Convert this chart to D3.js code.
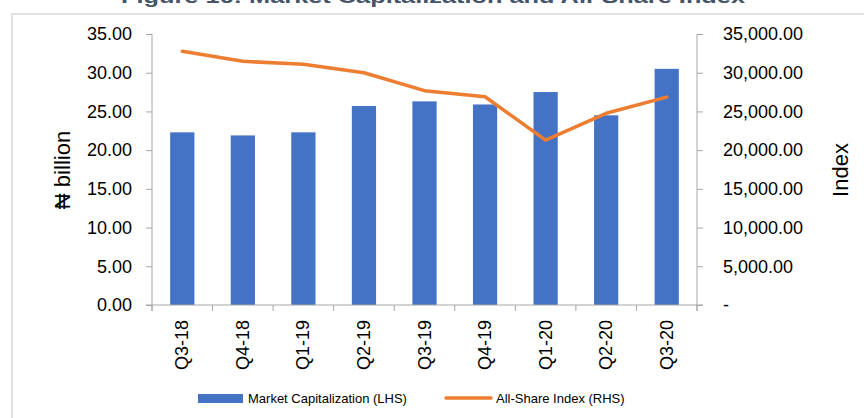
<!DOCTYPE html>
<html>
<head>
<meta charset="utf-8">
<script src="https://cdn.jsdelivr.net/npm/d3@7"></script>
<style>
  body { margin: 0; background: #fff; }
  text { font-family: "Liberation Sans", Arial, sans-serif; }
</style>
</head>
<body>
<div id="viz"></div>
<script>
// data
var quarters = ['Q3-18', 'Q4-18', 'Q1-19', 'Q2-19', 'Q3-19', 'Q4-19', 'Q1-20', 'Q2-20', 'Q3-20'];
var marketCap = [22.3, 21.9, 22.3, 25.7, 26.3, 25.9, 27.5, 24.5, 30.5];
var allShare = [32770, 31470, 31090, 30000, 27680, 26900, 21300, 24760, 26850];
var leftTicks = [0, 5, 10, 15, 20, 25, 30, 35];
var rightTicks = [0, 5000, 10000, 15000, 20000, 25000, 30000, 35000];

var width = 864, height = 418;
var plot = { left: 152, right: 697, top: 34, bottom: 305 };

var svg = d3.select('#viz').append('svg')
  .attr('width', width)
  .attr('height', height);

// frame of the figure box
svg.append('path')
  .attr('d', 'M12,418 L12,14 L864,14')
  .attr('fill', 'none')
  .attr('stroke', '#D9D9D9')
  .attr('stroke-width', 1.5);

// title, cut off by the top edge as in the source
svg.append('text')
  .attr('x', 433)
  .attr('y', 3)
  .attr('text-anchor', 'middle')
  .attr('textLength', 624)
  .attr('lengthAdjust', 'spacingAndGlyphs')
  .style('font-size', '19px')
  .style('font-weight', 'bold')
  .style('fill', '#44546A')
  .text('Figure 16: Market Capitalization and All-Share Index');

var xScale = d3.scaleBand()
  .domain(quarters)
  .range([plot.left, plot.right])
  .paddingInner(0.6)
  .paddingOuter(0.3);

var xGrid = d3.scaleBand()
  .domain(quarters)
  .range([plot.left, plot.right]);

var yLeft = d3.scaleLinear()
  .domain([0, 35])
  .range([plot.bottom, plot.top]);

var yRight = d3.scaleLinear()
  .domain([0, 35000])
  .range([plot.bottom, plot.top]);

var axisColor = '#A6A6A6';

// bars
svg.append('g').selectAll('rect')
  .data(marketCap)
  .enter().append('rect')
  .attr('x', function(d, i) { return xScale(quarters[i]); })
  .attr('width', xScale.bandwidth())
  .attr('y', function(d) { return yLeft(d); })
  .attr('height', function(d) { return plot.bottom - yLeft(d); })
  .attr('fill', '#4472C4');

// left axis
var leftAxis = svg.append('g')
  .attr('transform', 'translate(' + plot.left + ',0)')
  .call(d3.axisLeft(yLeft).tickValues(leftTicks).tickFormat(d3.format('.2f')).tickSize(6).tickPadding(14));

// right axis
var rightAxis = svg.append('g')
  .attr('transform', 'translate(' + plot.right + ',0)')
  .call(d3.axisRight(yRight).tickValues(rightTicks)
    .tickFormat(function(d) { return d === 0 ? '-' : d3.format(',.2f')(d); })
    .tickSize(6).tickPadding(20));

[leftAxis, rightAxis].forEach(function(ax) {
  ax.select('.domain').attr('stroke', axisColor)
    .attr('d', 'M0,' + plot.top + 'V' + (plot.bottom + 6));
  ax.selectAll('.tick line').attr('stroke', axisColor);
  ax.selectAll('.tick text')
    .style('font-size', '18px')
    .style('fill', '#000');
});
rightAxis.selectAll('.tick text').attr('text-anchor', 'start');

// category axis: line, boundary ticks, labels
var xAxisG = svg.append('g');
xAxisG.append('line')
  .attr('x1', plot.left - 6).attr('x2', plot.right + 6)
  .attr('y1', plot.bottom).attr('y2', plot.bottom)
  .attr('stroke', axisColor);
xAxisG.selectAll('line.bound')
  .data(quarters.concat(['end']))
  .enter().append('line')
  .attr('class', 'bound')
  .attr('x1', function(d) { return d === 'end' ? plot.right : xGrid(d); })
  .attr('x2', function(d) { return d === 'end' ? plot.right : xGrid(d); })
  .attr('y1', plot.bottom)
  .attr('y2', plot.bottom + 6)
  .attr('stroke', axisColor);
xAxisG.selectAll('text')
  .data(quarters)
  .enter().append('text')
  .attr('transform', function(d) {
    return 'translate(' + (xGrid(d) + xGrid.bandwidth() / 2 + 6) + ',' + (plot.bottom + 15) + ') rotate(-90)';
  })
  .attr('text-anchor', 'end')
  .style('font-size', '18px')
  .text(function(d) { return d; });

// all-share line
var line = d3.line()
  .x(function(d, i) { return xScale(quarters[i]) + xScale.bandwidth() / 2; })
  .y(function(d) { return yRight(d); });

svg.append('path')
  .datum(allShare)
  .attr('d', line)
  .attr('fill', 'none')
  .attr('stroke', '#ED7D31')
  .attr('stroke-width', 3.5)
  .attr('stroke-linecap', 'round')
  .attr('stroke-linejoin', 'round');

// axis titles
svg.append('text')
  .attr('transform', 'translate(70,170) rotate(-90)')
  .attr('text-anchor', 'middle')
  .style('font-size', '22px')
  .text('\u20A6 billion');

svg.append('text')
  .attr('transform', 'translate(848,170) rotate(-90)')
  .attr('text-anchor', 'middle')
  .style('font-size', '22px')
  .text('Index');

// legend
var legend = svg.append('g');
legend.append('rect')
  .attr('x', 198).attr('y', 394)
  .attr('width', 45).attr('height', 9)
  .attr('fill', '#4472C4');
legend.append('text')
  .attr('x', 248).attr('y', 403)
  .style('font-size', '13px')
  .text('Market Capitalization (LHS)');
legend.append('line')
  .attr('x1', 446).attr('x2', 491)
  .attr('y1', 398).attr('y2', 398)
  .attr('stroke', '#ED7D31')
  .attr('stroke-width', 3.5)
  .attr('stroke-linecap', 'round');
legend.append('text')
  .attr('x', 496).attr('y', 403)
  .style('font-size', '13px')
  .text('All-Share Index (RHS)');
</script>
</body>
</html>
